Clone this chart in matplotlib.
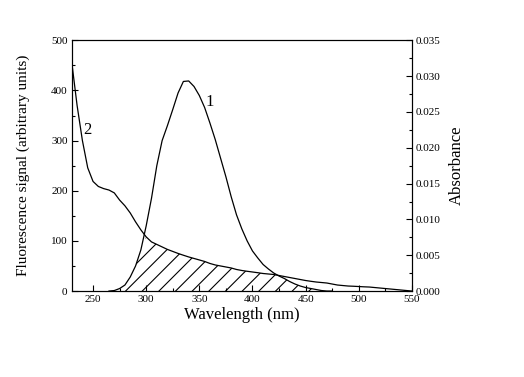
import numpy as np
import matplotlib
matplotlib.use('Agg')
import matplotlib.pyplot as plt
from matplotlib.ticker import MultipleLocator

plt.rcParams['font.family'] = ['Liberation Serif', 'DejaVu Serif']
plt.rcParams['hatch.linewidth'] = 0.8

# wavelength grid (nm)
wl = np.arange(230, 555, 5)

# curve 1 : fluorescence signal (arbitrary units), 0 outside the emission band
fluo = np.array([0, 0, 0, 0, 0, 0, 0, 0, 1, 5, 12, 28, 50, 82, 130, 185, 250,
                 300, 330, 362, 395, 418, 419, 408, 390, 366, 335, 302, 265,
                 228, 188, 152, 124, 100, 80, 66, 53, 44, 36, 30, 25, 19,
                 14, 10, 7, 5, 3, 1, 0, 0, 0, 0, 0, 0, 0, 0, 0, 0, 0, 0,
                 0, 0, 0, 0, 0])

# curve 2 : absorbance
absb = np.array([0.0319, 0.0259, 0.0210, 0.0172, 0.0153, 0.0146, 0.0143,
                 0.0141, 0.0137, 0.0127, 0.0119, 0.0109, 0.00966, 0.00854,
                 0.00756, 0.00686, 0.00651, 0.00616, 0.00581, 0.00553,
                 0.00525, 0.00500, 0.00476, 0.00455, 0.00434, 0.00413,
                 0.00385, 0.00364, 0.00350, 0.00336, 0.00322, 0.00301,
                 0.00287, 0.00276, 0.00266, 0.00256, 0.00245, 0.00238,
                 0.00231, 0.00217, 0.00203, 0.00189, 0.00175, 0.00161,
                 0.00147, 0.00136, 0.00126, 0.00119, 0.00112, 0.00098,
                 0.00084, 0.00077, 0.00070, 0.00067, 0.00063, 0.00059,
                 0.00056, 0.00049, 0.00042, 0.00035, 0.00028, 0.00021,
                 0.00014, 0.00007, 0.0])

ymax_f = 500.
ymax_a = 0.035
absf = absb * ymax_f / ymax_a  # absorbance drawn in fluorescence units

fig = plt.figure(figsize=(5.24, 3.77), dpi=100)
ax = fig.add_axes([0.137, 0.228, 0.649, 0.665])
ax2 = ax.twinx()

m1 = (wl >= 265) & (wl <= 475)
ax.plot(wl[m1], fluo[m1], color='black', lw=0.9)
ax.plot(wl, absf, color='black', lw=0.9)
overlap = np.minimum(fluo, absf)
ax.fill_between(wl, 0, overlap, where=overlap > 0,
                facecolor='none', edgecolor='black', hatch='//', lw=0)

ax.text(360, 378, '1', fontsize=12, ha='center', va='center')
ax.text(244.5, 322, '2', fontsize=12, ha='center', va='center')

ax.set_xlim(230, 550)
ax.set_ylim(0, ymax_f)
ax2.set_ylim(0, ymax_a)

ax.xaxis.set_major_locator(MultipleLocator(50))
ax.xaxis.set_minor_locator(MultipleLocator(25))
ax.yaxis.set_major_locator(MultipleLocator(100))
ax.yaxis.set_minor_locator(MultipleLocator(50))
ax2.yaxis.set_major_locator(MultipleLocator(0.005))
ax2.yaxis.set_minor_locator(MultipleLocator(0.0025))
ax2.yaxis.set_major_formatter(matplotlib.ticker.FormatStrFormatter('%.3f'))

ax.tick_params(which='both', direction='in', top=False, right=False, labelsize=8, pad=3)
ax.tick_params(which='major', length=4, width=0.8)
ax.tick_params(which='minor', length=2.5, width=0.8)
ax2.tick_params(which='both', direction='in', labelsize=8, pad=3)
ax2.tick_params(which='major', length=4, width=0.8)
ax2.tick_params(which='minor', length=2.5, width=0.8)

for a in (ax, ax2):
    for s in a.spines.values():
        s.set_linewidth(0.8)

ax.set_xlabel('Wavelength (nm)', fontsize=12, labelpad=2)
ax.set_ylabel('Fluorescence signal (arbitrary units)', fontsize=11, labelpad=15)
ax2.set_ylabel('Absorbance', fontsize=12, labelpad=6)

fig.savefig('out.png', dpi=100)
